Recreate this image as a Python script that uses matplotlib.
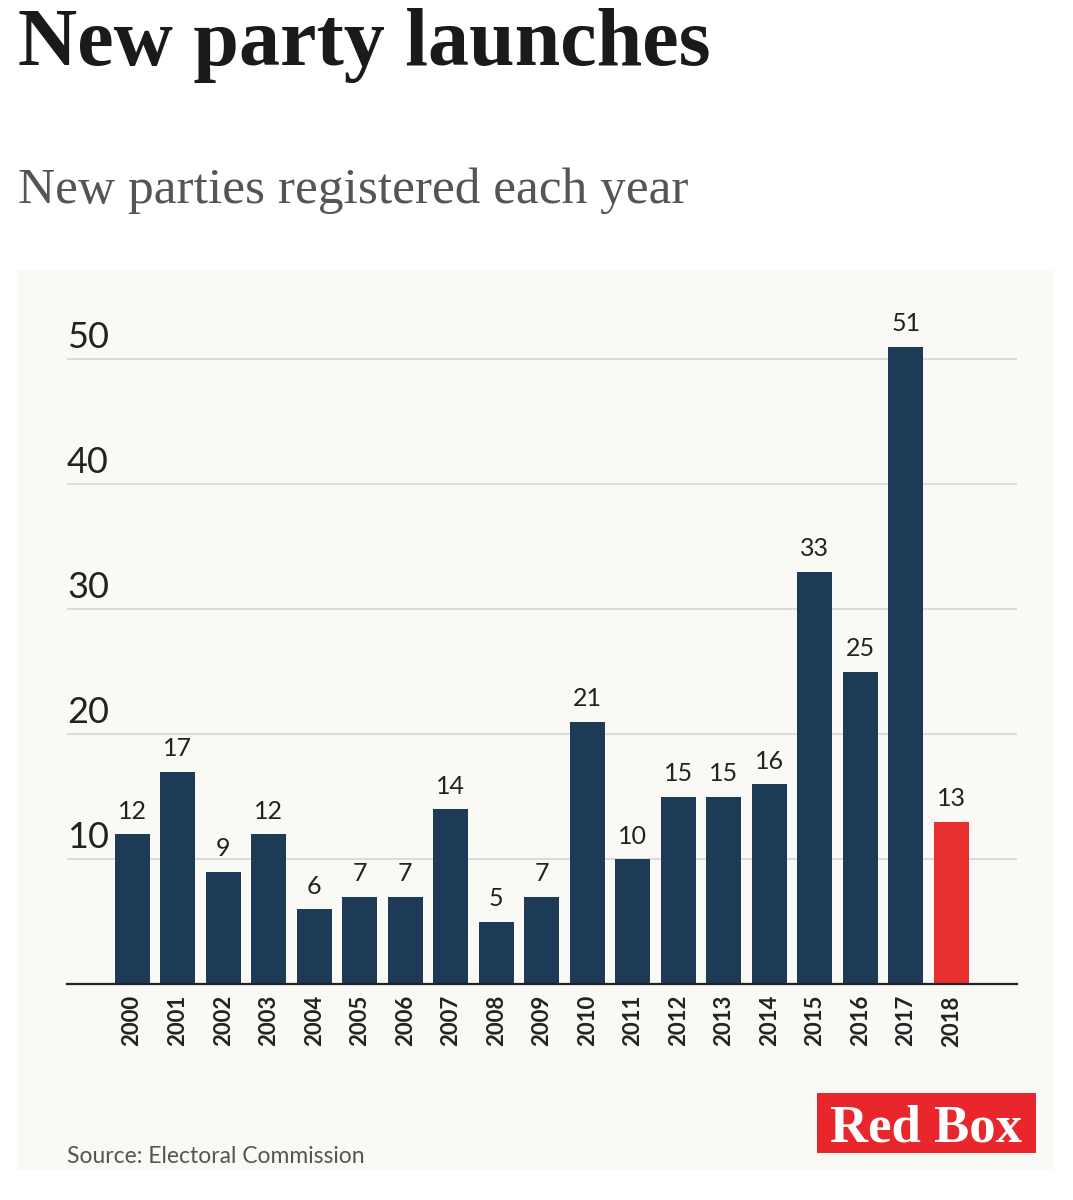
import matplotlib
matplotlib.use("Agg")
import matplotlib.pyplot as plt
from matplotlib.patches import Rectangle
import matplotlib.transforms as mtransforms

# ---------------------------
# DATA
# ---------------------------
years = [str(y) for y in range(2000, 2019)]
new_parties = [12, 17, 9, 12, 6, 7, 7, 14, 5, 7, 21, 10, 15, 15, 16, 33, 25, 51, 13]
y_ticks = [10, 20, 30, 40, 50]

NAVY = "#1d3a57"
RED = "#e8312f"
PANEL = "#faf9f5"

W, H = 1073, 1200
fig = plt.figure(figsize=(W / 100, H / 100), dpi=100)
fig.patch.set_facecolor("white")

def fx(px):
    return px / W

def fy(py):
    # pixel row from top -> figure fraction
    return 1 - py / H

# light panel behind the chart
fig.add_artist(Rectangle((fx(17), fy(1170)), fx(1036), 900 / H,
                         transform=fig.transFigure, facecolor=PANEL,
                         edgecolor="none", zorder=-5))

# titles
fig.text(fx(18), fy(65), "New party launches", fontfamily="Liberation Serif",
         fontweight="bold", fontsize=59, color="#1a1a1a", va="baseline")
fig.text(fx(18), fy(203), "New parties registered each year",
         fontfamily="Liberation Serif", fontsize=37, color="#555555", va="baseline")

# ---------------------------
# BARS
# ---------------------------
ymax = 54
ax = fig.add_axes([fx(67), fy(984), 950 / W, ymax * 12.5 / H])
ax.set_facecolor("none")

colors = [NAVY] * (len(years) - 1) + [RED]
x = list(range(len(years)))
ax.bar(x, new_parties, width=0.77, color=colors, zorder=2)

for v in y_ticks:
    ax.axhline(v, color="#d6d6d6", lw=1.2, zorder=1)

ax.set_xlim(-1.43, len(years) - 1 + 1.44)
ax.set_ylim(0, ymax)

for xi, v in zip(x, new_parties):
    ax.annotate(str(v), (xi, v), xytext=(0, 11), textcoords="offset points",
                ha="center", va="baseline", fontsize=18, fontfamily="Lato",
                color="#222222")

trans = mtransforms.blended_transform_factory(ax.transAxes, ax.transData)
for v in y_ticks:
    ax.text(0.0442, v + 0.9, str(v), transform=trans, ha="right", va="baseline",
            fontsize=26, fontfamily="Lato", color="#222222")

ax.set_yticks([])
ax.set_xticks(x)
ax.set_xticklabels(years, rotation=90, fontsize=16, fontfamily="Lato",
                   color="#222222", fontweight="bold")
ax.tick_params(axis="x", length=0, pad=8)

for s in ["top", "left", "right"]:
    ax.spines[s].set_visible(False)
ax.spines["bottom"].set_color("#222222")
ax.spines["bottom"].set_linewidth(1.6)

# ---------------------------
# FOOTER
# ---------------------------
fig.text(fx(67), fy(1163), "Source: Electoral Commission", fontfamily="Lato",
         fontsize=16.5, color="#555555", va="baseline")

fig.add_artist(Rectangle((fx(817), fy(1153)), fx(219), 60 / H,
                         transform=fig.transFigure, facecolor="#e8262b",
                         edgecolor="none"))
fig.text(fx(926.5), fy(1142), "Red Box", fontfamily="Liberation Serif",
         fontweight="bold", fontsize=38, color="white", ha="center", va="baseline")

fig.savefig("out.png", dpi=100)
